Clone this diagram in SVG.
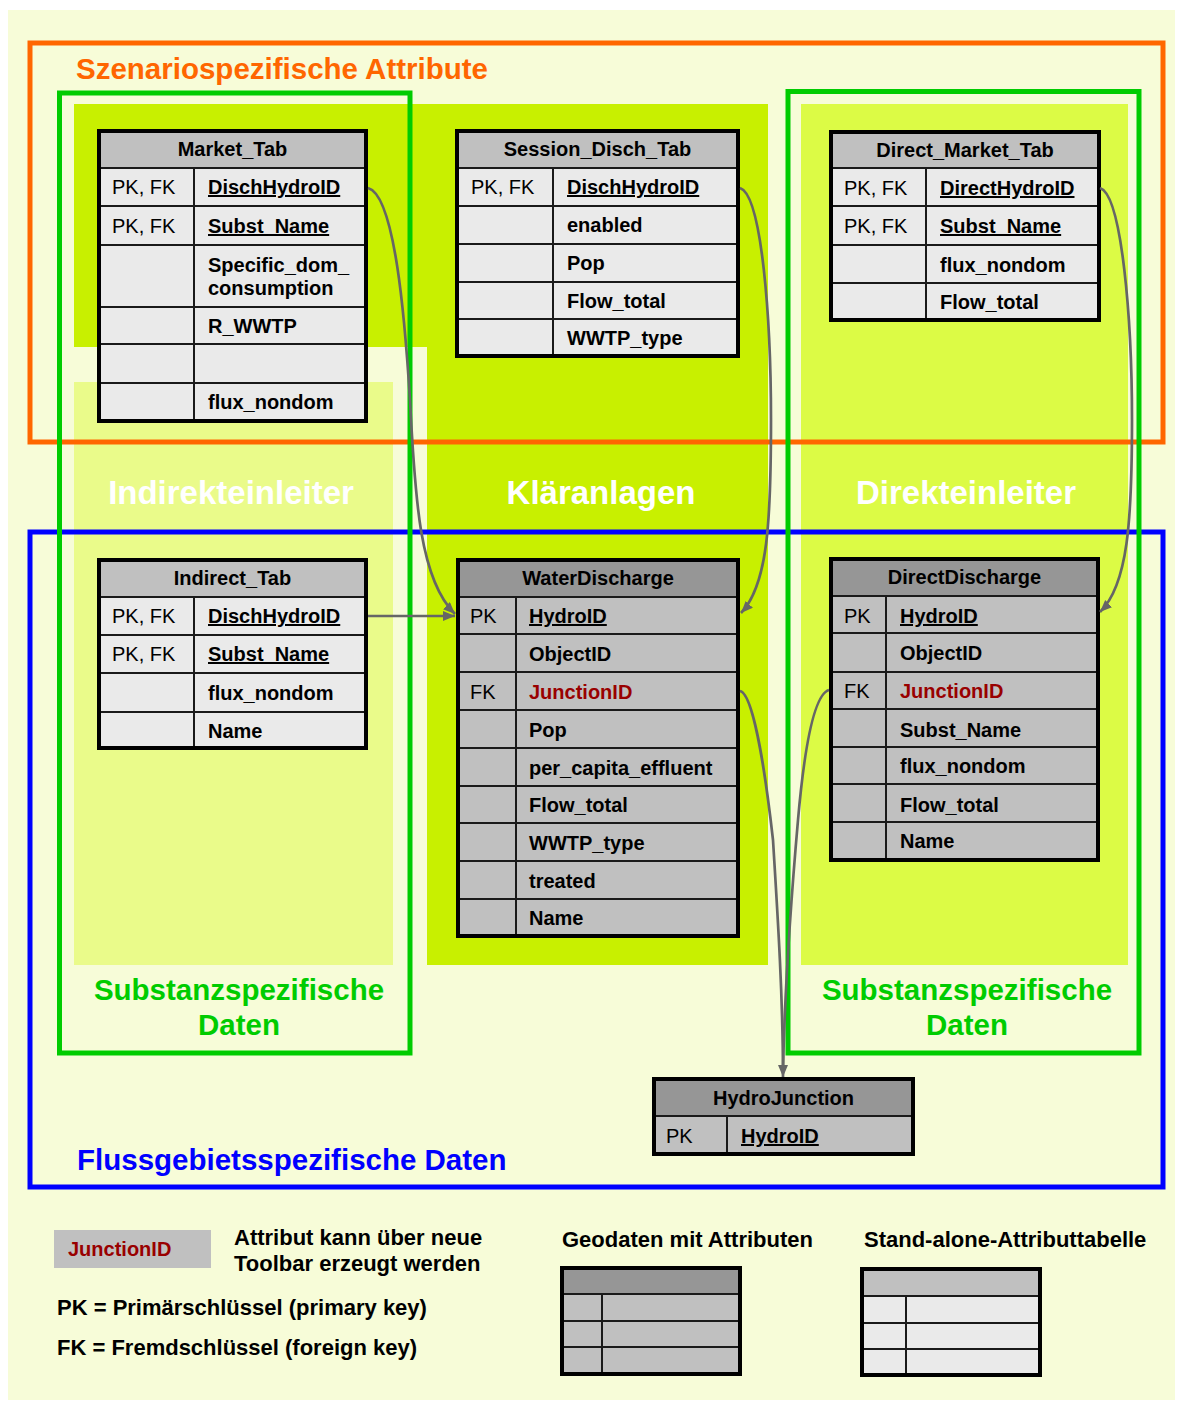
<svg xmlns="http://www.w3.org/2000/svg" width="1183" height="1402" viewBox="0 0 1183 1402">
<style>
.t{font-family:"Liberation Sans",Arial,sans-serif;font-size:20px;fill:#000}
.b{font-weight:bold}
.u{text-decoration:underline}
.red{fill:#990000}
.c{text-anchor:middle}
.hs{fill:#C0C0C0}
.rs{fill:#EAEAEA}
.hg{fill:#969696}
.rg{fill:#C0C0C0}
.grid{fill:none;stroke:#1a1a1a;stroke-width:2}
.frame{fill:none;stroke:#000;stroke-width:4}
.zone{font-family:"Liberation Sans",Arial,sans-serif;font-size:33px;font-weight:bold;fill:#FFFFFF;text-anchor:middle}
.title{font-family:"Liberation Sans",Arial,sans-serif;font-size:29.5px;font-weight:bold}
.leg{font-family:"Liberation Sans",Arial,sans-serif;font-size:22px;font-weight:bold;fill:#000}
.con{fill:none;stroke:#666666;stroke-width:2.7}
</style>
<defs>
<marker id="arr" markerUnits="userSpaceOnUse" markerWidth="13" markerHeight="11" refX="12" refY="5" orient="auto">
<path d="M0,0 L12,5 L0,10 z" fill="#666666"/>
</marker>
</defs>
<rect x="0" y="0" width="1183" height="1402" fill="#FFFFFF"/>
<rect x="8" y="10" width="1167" height="1390" fill="#F7FCD8"/>
<g id="zones">
<rect x="74" y="104" width="694" height="243" fill="#C8F000"/>
<rect x="427" y="104" width="341" height="861" fill="#C8F000"/>
<rect x="74" y="382" width="319" height="583" fill="#EAFB8A"/>
<rect x="801" y="104" width="327" height="861" fill="#DCFB45"/>
<text class="zone" x="231" y="504">Indirekteinleiter</text>
<text class="zone" x="601" y="504">Kläranlagen</text>
<text class="zone" x="966" y="504">Direkteinleiter</text>
</g>
<g id="frames">
<rect x="30" y="43" width="1133" height="399" fill="none" stroke="#FF6600" stroke-width="5"/>
<rect x="30" y="532" width="1133" height="655" fill="none" stroke="#0000FF" stroke-width="5"/>
<rect x="59.5" y="93" width="350.5" height="960" fill="none" stroke="#00CC00" stroke-width="5"/>
<rect x="788" y="91.5" width="351" height="961.5" fill="none" stroke="#00CC00" stroke-width="5"/>
<text class="title" x="76" y="79" fill="#FF6600">Szenariospezifische Attribute</text>
<text class="title" x="77" y="1170" fill="#0000FF">Flussgebietsspezifische Daten</text>
<text class="title c" x="239" y="1000" fill="#00CC00">Substanzspezifische</text>
<text class="title c" x="239" y="1035" fill="#00CC00">Daten</text>
<text class="title c" x="967" y="1000" fill="#00CC00">Substanzspezifische</text>
<text class="title c" x="967" y="1035" fill="#00CC00">Daten</text>
</g>
<g id="market_tab">
<rect class="hs" x="99" y="131" width="267" height="37"/>
<rect class="rs" x="99" y="168" width="267" height="253"/>
<path class="grid" d="M99,168H366M99,206H366M99,245H366M99,307H366M99,344H366M99,383H366M194,168V421"/>
<rect class="frame" x="99" y="131" width="267" height="290"/>
<text class="t b c" x="232.5" y="156">Market_Tab</text>
<text class="t" x="112" y="194">PK, FK</text>
<text class="t b u" x="208" y="194">DischHydroID</text>
<text class="t" x="112" y="233">PK, FK</text>
<text class="t b u" x="208" y="233">Subst_Name</text>
<text class="t b" x="208" y="272">Specific_dom_</text>
<text class="t b" x="208" y="295">consumption</text>
<text class="t b" x="208" y="333">R_WWTP</text>
<text class="t b" x="208" y="409">flux_nondom</text>
</g>
<g id="session_disch_tab">
<rect class="hs" x="457" y="131" width="281" height="37"/>
<rect class="rs" x="457" y="168" width="281" height="188"/>
<path class="grid" d="M457,168H738M457,206H738M457,244H738M457,282H738M457,319H738M553,168V356"/>
<rect class="frame" x="457" y="131" width="281" height="225"/>
<text class="t b c" x="597.5" y="156">Session_Disch_Tab</text>
<text class="t" x="471" y="194">PK, FK</text>
<text class="t b u" x="567" y="194">DischHydroID</text>
<text class="t b" x="567" y="232">enabled</text>
<text class="t b" x="567" y="270">Pop</text>
<text class="t b" x="567" y="308">Flow_total</text>
<text class="t b" x="567" y="345">WWTP_type</text>
</g>
<g id="direct_market_tab">
<rect class="hs" x="831" y="132" width="268" height="36"/>
<rect class="rs" x="831" y="168" width="268" height="152"/>
<path class="grid" d="M831,168H1099M831,206H1099M831,245H1099M831,283H1099M926,168V320"/>
<rect class="frame" x="831" y="132" width="268" height="188"/>
<text class="t b c" x="965" y="157">Direct_Market_Tab</text>
<text class="t" x="844" y="195">PK, FK</text>
<text class="t b u" x="940" y="195">DirectHydroID</text>
<text class="t" x="844" y="233">PK, FK</text>
<text class="t b u" x="940" y="233">Subst_Name</text>
<text class="t b" x="940" y="272">flux_nondom</text>
<text class="t b" x="940" y="309">Flow_total</text>
</g>
<g id="indirect_tab">
<rect class="hs" x="99" y="560" width="267" height="37"/>
<rect class="rs" x="99" y="597" width="267" height="151"/>
<path class="grid" d="M99,597H366M99,635H366M99,673H366M99,712H366M194,597V748"/>
<rect class="frame" x="99" y="560" width="267" height="188"/>
<text class="t b c" x="232.5" y="585">Indirect_Tab</text>
<text class="t" x="112" y="623">PK, FK</text>
<text class="t b u" x="208" y="623">DischHydroID</text>
<text class="t" x="112" y="661">PK, FK</text>
<text class="t b u" x="208" y="661">Subst_Name</text>
<text class="t b" x="208" y="700">flux_nondom</text>
<text class="t b" x="208" y="738">Name</text>
</g>
<g id="waterdischarge">
<rect class="hg" x="458" y="560" width="280" height="37"/>
<rect class="rg" x="458" y="597" width="280" height="339"/>
<path class="grid" d="M458,597H738M458,634H738M458,672H738M458,710H738M458,748H738M458,786H738M458,823H738M458,861H738M458,899H738M516,597V936"/>
<rect class="frame" x="458" y="560" width="280" height="376"/>
<text class="t b c" x="598" y="585">WaterDischarge</text>
<text class="t" x="470" y="623">PK</text>
<text class="t b u" x="529" y="623">HydroID</text>
<text class="t b" x="529" y="661">ObjectID</text>
<text class="t" x="470" y="699">FK</text>
<text class="t b red" x="529" y="699">JunctionID</text>
<text class="t b" x="529" y="737">Pop</text>
<text class="t b" x="529" y="775">per_capita_effluent</text>
<text class="t b" x="529" y="812">Flow_total</text>
<text class="t b" x="529" y="850">WWTP_type</text>
<text class="t b" x="529" y="888">treated</text>
<text class="t b" x="529" y="925">Name</text>
</g>
<g id="directdischarge">
<rect class="hg" x="831" y="559" width="267" height="37"/>
<rect class="rg" x="831" y="596" width="267" height="264"/>
<path class="grid" d="M831,596H1098M831,633H1098M831,672H1098M831,709H1098M831,747H1098M831,784H1098M831,822H1098M886,596V860"/>
<rect class="frame" x="831" y="559" width="267" height="301"/>
<text class="t b c" x="964.5" y="584">DirectDischarge</text>
<text class="t" x="844" y="623">PK</text>
<text class="t b u" x="900" y="623">HydroID</text>
<text class="t b" x="900" y="660">ObjectID</text>
<text class="t" x="844" y="698">FK</text>
<text class="t b red" x="900" y="698">JunctionID</text>
<text class="t b" x="900" y="737">Subst_Name</text>
<text class="t b" x="900" y="773">flux_nondom</text>
<text class="t b" x="900" y="812">Flow_total</text>
<text class="t b" x="900" y="848">Name</text>
</g>
<g id="hydrojunction">
<rect class="hg" x="654" y="1079" width="259" height="37"/>
<rect class="rg" x="654" y="1116" width="259" height="38"/>
<path class="grid" d="M654,1116H913M727,1116V1154"/>
<rect class="frame" x="654" y="1079" width="259" height="75"/>
<text class="t b c" x="783.5" y="1105">HydroJunction</text>
<text class="t" x="666" y="1143">PK</text>
<text class="t b u" x="741" y="1143">HydroID</text>
</g>
<g id="connectors">
<path class="con" d="M368,188 C395,195 405,320 410,400 C415,500 420,580 455,614" marker-end="url(#arr)"/>
<path class="con" d="M368,616 L455,616" marker-end="url(#arr)"/>
<path class="con" d="M740,188 C762,195 771,320 771,420 C771,520 768,585 741,613" marker-end="url(#arr)"/>
<path class="con" d="M1100,188 C1122,195 1132,320 1132,420 C1132,520 1128,585 1100,612" marker-end="url(#arr)"/>
<path class="con" d="M829,690 C815,694 805,740 798,820 C791,900 785,980 783,1070"/>
<path class="con" d="M740,691 C752,693 764,760 773,840 C778,920 783,1000 783,1077" marker-end="url(#arr)"/>
</g>
<g id="legend">
<rect x="54" y="1230" width="157" height="38" fill="#C0C0C0"/>
<text class="t b red" x="68" y="1256">JunctionID</text>
<text class="leg" x="234" y="1245">Attribut kann über neue</text>
<text class="leg" x="234" y="1271">Toolbar erzeugt werden</text>
<text class="leg" x="57" y="1315">PK = Primärschlüssel (primary key)</text>
<text class="leg" x="57" y="1355">FK = Fremdschlüssel (foreign key)</text>
<text class="leg" x="562" y="1247">Geodaten mit Attributen</text>
<text class="leg" x="864" y="1247">Stand-alone-Attributtabelle</text>
</g>
<g id="legend_geodata">
<rect class="hg" x="562" y="1268" width="178" height="26"/>
<rect class="rg" x="562" y="1294" width="178" height="80"/>
<path class="grid" d="M562,1294H740M562,1321H740M562,1347H740M602,1294V1374"/>
<rect class="frame" x="562" y="1268" width="178" height="106"/>
</g>
<g id="legend_standalone">
<rect class="hs" x="862" y="1269" width="178" height="27"/>
<rect class="rs" x="862" y="1296" width="178" height="79"/>
<path class="grid" d="M862,1296H1040M862,1323H1040M862,1349H1040M906,1296V1375"/>
<rect class="frame" x="862" y="1269" width="178" height="106"/>
</g>
</svg>
